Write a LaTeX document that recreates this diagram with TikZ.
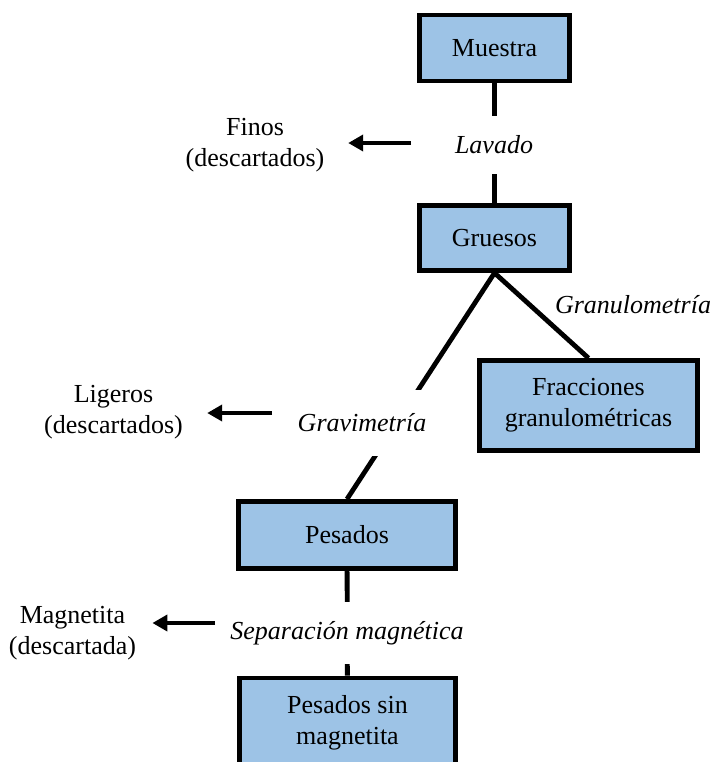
\documentclass[tikz,border=0pt]{standalone}
\usepackage{fontspec}
\setmainfont{Liberation Serif}
\usetikzlibrary{arrows.meta}
\definecolor{azulcaja}{RGB}{157,195,230}

\begin{document}
\begin{tikzpicture}[x=0.5pt, y=-0.5pt,
  font=\fontsize{13}{15.5}\selectfont,
  caja/.style={draw, line width=2.4pt, fill=azulcaja, align=center, inner sep=0pt},
  paso/.style={fill=white, font=\fontsize{13}{15.5}\selectfont\itshape, inner xsep=1pt, inner ysep=0pt},
  descarte/.style={align=center, inner sep=0pt},
  linea/.style={line width=2.4pt},
  flecha/.style={line width=2.4pt, -{Triangle[length=7.5pt,width=8pt]}}]
\useasboundingbox (0,0) rectangle (710,762);
\clip (0,0) rectangle (710,762);
% cajas
\node[caja, minimum width=75pt, minimum height=33pt] (mue) at (494.5,48) {Muestra};
\node[caja, minimum width=75pt, minimum height=32.5pt] (gru) at (494.5,238) {Gruesos};
\node[caja, minimum width=109pt, minimum height=45pt] (fra) at (588.5,405.5) {Fracciones\\granulométricas};
\node[caja, minimum width=108.5pt, minimum height=33.5pt] (pes) at (347,535) {Pesados};
\node[caja, minimum width=108pt, minimum height=45pt] (psm) at (347.5,723) {Pesados sin\\magnetita};
% conexiones
\draw[linea] (mue) -- (gru);
\draw[linea] (gru.south) -- (fra.north);
\draw[linea] (gru.south) -- (pes.north);
\draw[linea] (pes) -- (psm);
% pasos
\node[paso, minimum height=29pt] (lav) at (494,145) {Lavado};
\node[paso, minimum height=33pt] (grv) at (362,423) {Gravimetría};
\node[paso, minimum height=31pt] (sep) at (347,633) {Separación magnética};
\node[anchor=base west, font=\fontsize{13}{15.5}\selectfont\itshape] (gra) at (548,313) {Granulometría};
% descartes
\node[descarte] (fin) at (255,145.5) {Finos\\(descartados)};
\node[descarte] (lig) at (113.5,412.5) {Ligeros\\(descartados)};
\node[descarte] (mag) at (72.5,633) {Magnetita\\(descartada)};
\coordinate (c1) at (411,143);
\coordinate (c2) at (272,413);
\coordinate (c3) at (215,623);
\draw[flecha, shorten >=11.75pt] (c1) -- (c1 -| fin.east);
\draw[flecha, shorten >=12pt] (c2) -- (c2 -| lig.east);
\draw[flecha, shorten >=8pt] (c3) -- (c3 -| mag.east);
\end{tikzpicture}
\end{document}
